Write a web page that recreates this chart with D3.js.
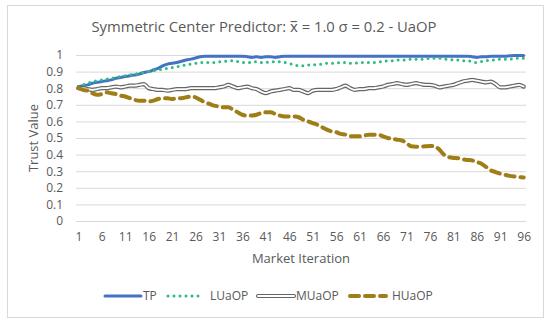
<!DOCTYPE html>
<html>
<head>
<meta charset="utf-8">
<script src="https://cdnjs.cloudflare.com/ajax/libs/d3/7.8.5/d3.min.js"></script>
<style>
  body { margin: 0; background: #fff; }
  text { font-family: "Open Sans", "Noto Sans", sans-serif; fill: #595959; }
</style>
</head>
<body>
<div class="chartD3"></div>
<script>
let iterations = d3.range(1, 97)
let xTickLabels = d3.range(1, 97, 5)
let yTickLabels = [0, 0.1, 0.2, 0.3, 0.4, 0.5, 0.6, 0.7, 0.8, 0.9, 1]

let tp = [0.81, 0.815, 0.82, 0.83, 0.835, 0.84, 0.845, 0.85, 0.86, 0.865, 0.87, 0.875, 0.88, 0.885, 0.895, 0.90,
  0.91, 0.92, 0.935, 0.945, 0.95, 0.955, 0.962, 0.97, 0.975, 0.982, 0.99, 0.993, 0.993, 0.993, 0.993, 0.993,
  0.993, 0.993, 0.993, 0.993, 0.99, 0.985, 0.99, 0.985, 0.99, 0.99, 0.985, 0.99, 0.993, 0.993, 0.993, 0.993,
  0.993, 0.993, 0.993, 0.993, 0.993, 0.993, 0.993, 0.993, 0.993, 0.993, 0.993, 0.993, 0.993, 0.993, 0.993, 0.993,
  0.993, 0.993, 0.993, 0.993, 0.993, 0.993, 0.993, 0.993, 0.993, 0.993, 0.993, 0.993, 0.993, 0.993, 0.993, 0.993,
  0.993, 0.993, 0.993, 0.993, 0.99, 0.985, 0.99, 0.99, 0.993, 0.993, 0.993, 0.993, 0.995, 0.997, 0.997, 0.997]

let luaop = [0.81, 0.82, 0.83, 0.84, 0.845, 0.85, 0.855, 0.86, 0.865, 0.87, 0.875, 0.88, 0.885, 0.89, 0.895, 0.90,
  0.905, 0.91, 0.915, 0.92, 0.925, 0.93, 0.935, 0.94, 0.945, 0.95, 0.955, 0.955, 0.955, 0.955, 0.96, 0.96,
  0.965, 0.965, 0.96, 0.955, 0.955, 0.955, 0.96, 0.955, 0.955, 0.96, 0.96, 0.96, 0.955, 0.95, 0.94, 0.935,
  0.935, 0.94, 0.94, 0.945, 0.945, 0.95, 0.95, 0.95, 0.955, 0.955, 0.95, 0.95, 0.955, 0.955, 0.955, 0.955,
  0.96, 0.96, 0.965, 0.965, 0.97, 0.97, 0.97, 0.975, 0.975, 0.975, 0.975, 0.98, 0.98, 0.98, 0.975, 0.975,
  0.97, 0.97, 0.965, 0.965, 0.96, 0.955, 0.96, 0.965, 0.97, 0.97, 0.975, 0.975, 0.975, 0.98, 0.98, 0.98]

let muaop = [0.80, 0.80, 0.795, 0.79, 0.795, 0.80, 0.80, 0.805, 0.81, 0.805, 0.81, 0.815, 0.815, 0.82, 0.825, 0.80,
  0.795, 0.79, 0.79, 0.785, 0.79, 0.795, 0.795, 0.795, 0.80, 0.80, 0.80, 0.80, 0.80, 0.80, 0.805, 0.81,
  0.82, 0.81, 0.80, 0.805, 0.81, 0.80, 0.795, 0.78, 0.77, 0.78, 0.785, 0.79, 0.795, 0.80, 0.79, 0.79,
  0.78, 0.77, 0.785, 0.79, 0.79, 0.79, 0.79, 0.795, 0.805, 0.815, 0.80, 0.79, 0.795, 0.795, 0.80, 0.80,
  0.805, 0.81, 0.82, 0.825, 0.83, 0.825, 0.82, 0.825, 0.83, 0.825, 0.82, 0.82, 0.815, 0.805, 0.81, 0.815,
  0.82, 0.83, 0.84, 0.845, 0.85, 0.845, 0.84, 0.835, 0.84, 0.825, 0.805, 0.805, 0.81, 0.815, 0.82, 0.81]

let huaop = [0.80, 0.79, 0.785, 0.77, 0.76, 0.765, 0.775, 0.77, 0.765, 0.755, 0.75, 0.74, 0.73, 0.725, 0.725, 0.72,
  0.725, 0.735, 0.74, 0.74, 0.735, 0.74, 0.74, 0.745, 0.75, 0.745, 0.73, 0.715, 0.705, 0.695, 0.69, 0.685,
  0.685, 0.67, 0.655, 0.64, 0.635, 0.635, 0.64, 0.65, 0.655, 0.655, 0.645, 0.635, 0.63, 0.63, 0.63, 0.625,
  0.61, 0.60, 0.59, 0.58, 0.565, 0.55, 0.54, 0.535, 0.525, 0.52, 0.51, 0.51, 0.51, 0.515, 0.52, 0.52,
  0.52, 0.51, 0.50, 0.495, 0.49, 0.485, 0.47, 0.45, 0.448, 0.448, 0.45, 0.452, 0.45, 0.43, 0.40, 0.385,
  0.38, 0.378, 0.372, 0.368, 0.365, 0.355, 0.345, 0.325, 0.305, 0.295, 0.285, 0.278, 0.272, 0.268, 0.265, 0.262]

let seriesNames = ['TP', 'LUaOP', 'MUaOP', 'HUaOP']

let margin = {top: 55, right: 24, bottom: 103, left: 76}
let width = 550 - margin.left - margin.right
let height = 324 - margin.top - margin.bottom

let svg = d3.select('.chartD3').append('svg')
  .attr('width', 550)
  .attr('height', 324)

// outer chart border
svg.append('rect')
  .attr('x', 7.5).attr('y', 5.5)
  .attr('width', 536).attr('height', 312)
  .attr('fill', '#fff')
  .attr('stroke', '#d9d9d9')

svg.append('text')
  .attr('x', 264).attr('y', 32)
  .attr('text-anchor', 'middle')
  .style('font-size', '14.8px')
  .text('Symmetric Center Predictor: x\u0305 = 1.0 \u03c3 = 0.2 - UaOP')

let chart = svg.append('g')
  .attr('transform', 'translate(' + margin.left + ',' + margin.top + ')')

let x = d3.scalePoint()
  .domain(iterations)
  .range([0, width])
  .padding(0.5)

let y = d3.scaleLinear()
  .domain([0, 1])
  .range([height, 0])

let yAxis = d3.axisLeft(y)
  .tickValues(yTickLabels)
  .tickSize(-width)
  .tickPadding(13)
  .tickFormat(d => d3.format('')(+d.toFixed(1)))

chart.append('g')
  .attr('id', 'y-axis')
  .call(yAxis)
  .call(g => g.select('.domain').remove())
  .call(g => g.selectAll('line').attr('stroke', '#d9d9d9'))
  .call(g => g.selectAll('text').style('font-size', '12px').attr('fill', '#595959'))

let xAxis = d3.axisBottom(x)
  .tickValues(xTickLabels)
  .tickSize(0)
  .tickPadding(11)

chart.append('g')
  .attr('id', 'x-axis')
  .attr('transform', 'translate(0,' + height + ')')
  .call(xAxis)
  .call(g => g.select('.domain').remove())
  .call(g => g.selectAll('text').style('font-size', '12px').attr('fill', '#595959'))

chart.append('text')
  .attr('transform', 'translate(-38,' + (height / 2) + ') rotate(-90)')
  .attr('text-anchor', 'middle')
  .style('font-size', '13px')
  .text('Trust Value')

chart.append('text')
  .attr('x', width / 2).attr('y', height + 42)
  .attr('text-anchor', 'middle')
  .style('font-size', '13px')
  .text('Market Iteration')

let line = d3.line()
  .x((d, i) => x(iterations[i]))
  .y(d => y(d))
  .curve(d3.curveMonotoneX)

let styles = {
  TP: [{stroke: '#4472c4', width: 3}],
  LUaOP: [{stroke: '#2bbd7e', width: 3, dash: '0 6'}],
  MUaOP: [{stroke: '#666666', width: 4.2}, {stroke: '#fff', width: 1.8}],
  HUaOP: [{stroke: '#9f7e17', width: 4, dash: '9 6'}]
}
let values = {TP: tp, LUaOP: luaop, MUaOP: muaop, HUaOP: huaop}

seriesNames.forEach(name => {
  styles[name].forEach(s => {
    chart.append('path')
      .datum(values[name])
      .attr('fill', 'none')
      .attr('stroke', s.stroke)
      .attr('stroke-width', s.width)
      .attr('stroke-linecap', 'round')
      .attr('stroke-linejoin', 'round')
      .attr('stroke-dasharray', s.dash || null)
      .attr('d', line)
  })
})

// legend
let legendX = [105, 168, 258, 350]
let legend = svg.append('g').attr('transform', 'translate(0,296)')
seriesNames.forEach((name, i) => {
  let item = legend.append('g').attr('transform', 'translate(' + legendX[i] + ',0)')
  styles[name].forEach(s => {
    item.append('line')
      .attr('x1', 0).attr('x2', 36)
      .attr('stroke', s.stroke)
      .attr('stroke-width', s.width)
      .attr('stroke-linecap', 'round')
      .attr('stroke-dasharray', s.dash || null)
  })
  item.append('text')
    .attr('x', name === 'TP' || name === 'MUaOP' ? 38 : 42)
    .attr('dy', '0.35em')
    .style('font-size', '12px')
    .text(name)
})
</script>
</body>
</html>
